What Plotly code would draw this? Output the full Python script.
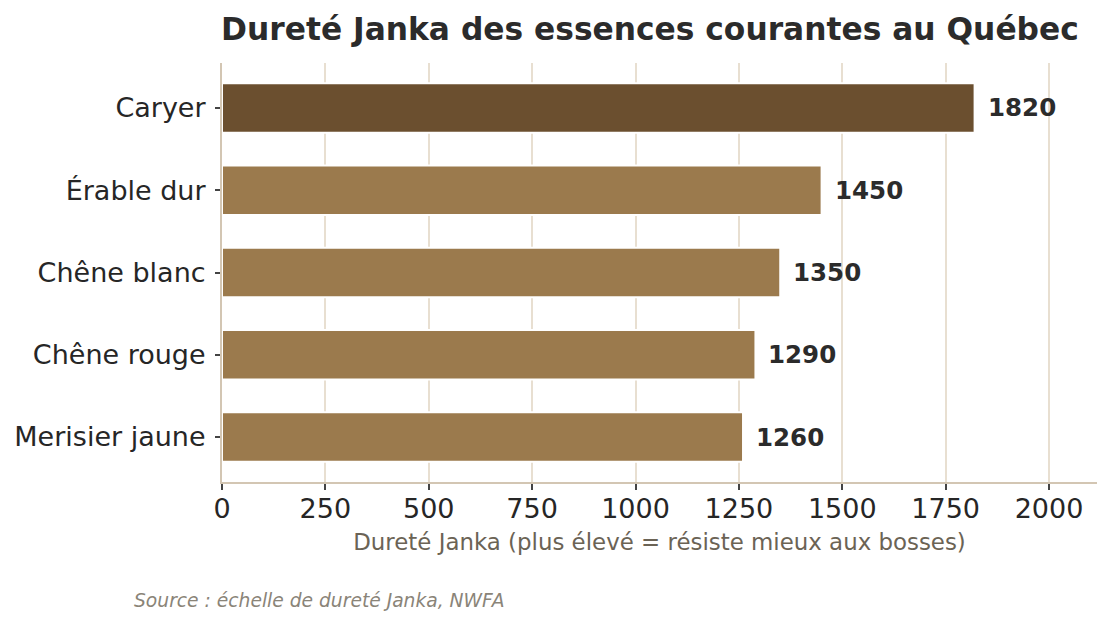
import plotly.graph_objects as go

categories = ["Caryer", "Érable dur", "Chêne blanc", "Chêne rouge", "Merisier jaune"]
values = [1820, 1450, 1350, 1290, 1260]
colors = ["#6B4F2F", "#9B7A4D", "#9B7A4D", "#9B7A4D", "#9B7A4D"]
xticks = [0, 250, 500, 750, 1000, 1250, 1500, 1750, 2000]

FONT = "DejaVu Sans"

fig = go.Figure()
fig.add_trace(go.Bar(
    x=values, y=categories, orientation="h",
    width=0.6,
    marker=dict(color=colors, line=dict(color="white", width=2)),
    hoverinfo="skip",
))

for c, v in zip(categories, values):
    fig.add_annotation(
        x=v, y=c, text=f"<b>{v}</b>", showarrow=False,
        xanchor="left", yanchor="middle", xshift=11,
        font=dict(family=FONT, size=24.5, color="#2B2B2B"),
    )

fig.add_annotation(
    xref="paper", yref="paper", x=0.4897, y=1, yshift=34,
    text="<b>Dureté Janka des essences courantes au Québec</b>",
    showarrow=False, xanchor="center", yanchor="middle",
    font=dict(family=FONT, size=31.3, color="#2B2B2B"),
)
fig.add_annotation(
    xref="paper", yref="paper", x=-0.103, y=0, yshift=-118,
    text="<i>Source : échelle de dureté Janka, NWFA</i>",
    showarrow=False, xanchor="left", yanchor="middle",
    font=dict(family=FONT, size=18.7, color="#8A8478"),
)

fig.update_layout(
    width=1111, height=625,
    margin=dict(l=222, r=14, t=63, b=143),
    paper_bgcolor="white", plot_bgcolor="white",
    showlegend=False,
    font=dict(family=FONT, color="#262626"),
    xaxis=dict(
        range=[0, 2116], tickvals=xticks,
        showgrid=True, gridcolor="#E8DFD1", gridwidth=2,
        zeroline=False, showline=True, linecolor="#D3C6B3", linewidth=2,
        ticks="outside", ticklen=6, tickwidth=1.5, tickcolor="#444444",
        ticklabelstandoff=-4,
        tickfont=dict(family=FONT, size=27, color="#262626"),
        title=dict(text="Dureté Janka (plus élevé = résiste mieux aux bosses)",
                   font=dict(family=FONT, size=22.9, color="#6B6355"), standoff=11),
    ),
    yaxis=dict(
        categoryorder="array", categoryarray=categories,
        autorange=False, range=[4.547, -0.547],
        showgrid=False, zeroline=False, showline=True, linecolor="#D3C6B3", linewidth=2,
        ticks="outside", ticklen=5, tickwidth=1.5, tickcolor="#444444",
        ticklabelstandoff=4,
        tickfont=dict(family=FONT, size=27, color="#262626"),
    ),
)

fig.write_html("out.html")
